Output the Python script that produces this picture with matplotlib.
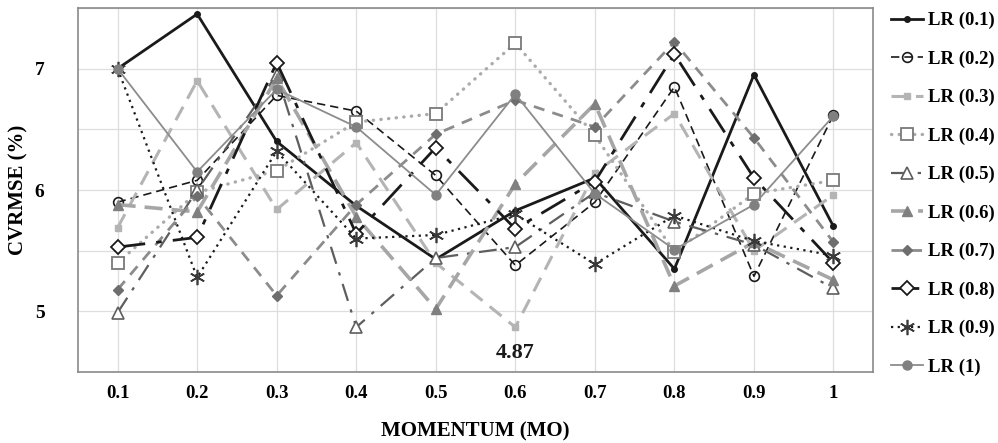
import matplotlib.pyplot as plt
import numpy as np

plt.rcParams['font.family'] = ['Liberation Serif', 'DejaVu Serif']
plt.rcParams['font.weight'] = 'bold'

momentum = ['0.1', '0.2', '0.3', '0.4', '0.5', '0.6', '0.7', '0.8', '0.9', '1']

lr_01 = [7.00, 7.45, 6.40, 5.87, 5.43, 5.83, 6.10, 5.35, 6.95, 5.70]
lr_02 = [5.90, 6.08, 6.78, 6.65, 6.12, 5.38, 5.90, 6.85, 5.29, 6.62]
lr_03 = [5.69, 6.90, 5.84, 6.39, 5.40, 4.87, 6.14, 6.63, 5.50, 5.96]
lr_04 = [5.40, 5.98, 6.16, 6.56, 6.63, 7.21, 6.45, 5.49, 5.97, 6.08]
lr_05 = [4.99, 6.00, 6.95, 4.87, 5.44, 5.53, 5.98, 5.74, 5.55, 5.19]
lr_06 = [5.88, 5.82, 6.92, 5.78, 5.02, 6.05, 6.71, 5.21, 5.57, 5.26]
lr_07 = [5.18, 5.95, 5.13, 5.88, 6.46, 6.74, 6.52, 7.22, 6.43, 5.57]
lr_08 = [5.53, 5.61, 7.05, 5.64, 6.35, 5.68, 6.07, 7.12, 6.10, 5.40]
lr_09 = [7.00, 5.28, 6.32, 5.60, 5.63, 5.80, 5.39, 5.79, 5.58, 5.46]
lr_1 = [7.00, 6.15, 6.83, 6.52, 5.96, 6.79, 5.97, 5.51, 5.88, 6.61]

x = np.arange(1, len(momentum) + 1)

fig = plt.figure(figsize=(9.98, 4.43), dpi=100)
ax = fig.add_axes([0.078, 0.160, 0.797, 0.822])

ax.plot(x, lr_01, color='#1a1a1a', lw=2.0, marker='o', ms=4, label='LR (0.1)')
ax.plot(x, lr_02, color='#1a1a1a', lw=1.2, dashes=(5, 3), marker='o', ms=7,
        mfc='none', mec='#1a1a1a', mew=1.2, label='LR (0.2)')
ax.plot(x, lr_03, color='#b4b4b4', lw=2.2, dashes=(5, 3), marker='s', ms=5,
        mfc='#b4b4b4', mec='#b4b4b4', label='LR (0.3)')
ax.plot(x, lr_04, color='#ababab', lw=2.4, dashes=(0.1, 2.2), dash_capstyle='round',
        marker='s', ms=8, mfc='white', mec='#7a7a7a', mew=1.3, label='LR (0.4)')
ax.plot(x, lr_05, color='#5e5e5e', lw=1.6, dashes=(8, 4, 1.5, 4), marker='^', ms=8,
        mfc='white', mec='#5e5e5e', mew=1.2, label='LR (0.5)')
ax.plot(x, lr_06, color='#a6a6a6', lw=2.6, dashes=(5, 2.5), marker='^', ms=7,
        mfc='#808080', mec='#808080', label='LR (0.6)')
ax.plot(x, lr_07, color='#8c8c8c', lw=2.0, dashes=(4, 3), marker='D', ms=5,
        mfc='#6e6e6e', mec='#6e6e6e', label='LR (0.7)')
ax.plot(x, lr_08, color='#1a1a1a', lw=2.0, dashes=(10, 4, 2, 4), marker='D', ms=7,
        mfc='white', mec='#1a1a1a', mew=1.3, label='LR (0.8)')
ax.plot(x, lr_09, color='#1a1a1a', lw=1.6, dashes=(1, 2), marker=(6, 2, 0), ms=11,
        mec='#3a3a3a', mew=1.2, label='LR (0.9)')
ax.plot(x, lr_1, color='#8c8c8c', lw=1.3, marker='o', ms=6.5,
        mfc='#808080', mec='#808080', label='LR (1)')

ax.text(6, 4.66, '4.87', ha='center', va='center', fontsize=16, fontweight='bold',
        color='#1a1a1a')

ax.set_xlim(0.5, 10.5)
ax.set_ylim(4.5, 7.5)
ax.set_xticks(x)
ax.set_xticklabels(momentum, fontsize=13.5, fontweight='bold')
yt = np.arange(4.5, 7.51, 0.5)
ax.set_yticks(yt)
ax.set_yticklabels(['' if v != int(v) else str(int(v)) for v in yt],
                   fontsize=14, fontweight='bold')
ax.tick_params(axis='both', length=0)
ax.tick_params(axis='x', pad=9)
ax.tick_params(axis='y', pad=24)
ax.grid(True, color='#dedede', lw=0.9)
ax.set_axisbelow(True)
for s in ax.spines.values():
    s.set_color('#8a8a8a')
    s.set_linewidth(1.2)

ax.set_xlabel('MOMENTUM (MO)', fontsize=15, fontweight='bold')
ax.xaxis.set_label_coords(0.5, -0.135)
ax.set_ylabel('CVRMSE (%)', fontsize=15, fontweight='bold')
ax.yaxis.set_label_coords(-0.062, 0.5)

fig.legend(loc='upper left', bbox_to_anchor=(0.885, 0.99), frameon=False,
           handlelength=1.7, handletextpad=0.3,
           labelspacing=1.13, borderaxespad=0.0, prop={'weight': 'bold', 'size': 13.5})

fig.savefig('out.png', dpi=100)
